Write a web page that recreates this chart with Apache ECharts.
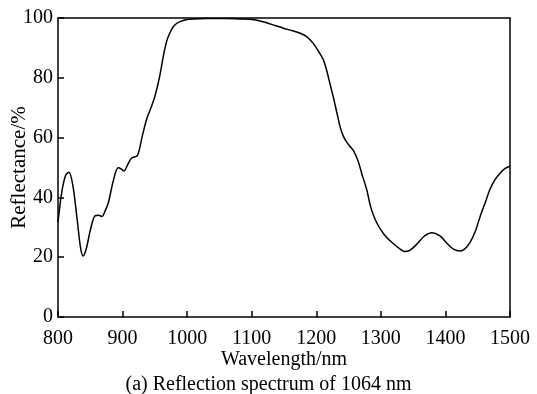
<!DOCTYPE html>
<html><head><meta charset="utf-8">
<script src="https://cdn.jsdelivr.net/npm/echarts@6/dist/echarts.min.js"></script>
<style>html,body{margin:0;padding:0;background:#fff}#c{width:537px;height:394px}</style>
</head><body><div id="c"></div>
<script>
const wavelength = [800,806,812,817,823,830,835,839,844,850,857,863,868,873,878,885,893,898,902,908,914,923,930,937,944,950,957,963,968,973,980,989,1000,1010,1030,1060,1080,1097,1110,1123,1136,1149,1162,1175,1185,1195,1203,1211,1216,1221,1227,1232,1237,1242,1247,1252,1258,1265,1271,1278,1284,1291,1299,1309,1319,1330,1337,1345,1355,1367,1379,1391,1403,1413,1423,1430,1438,1446,1454,1462,1469,1477,1485,1492,1500];
const reflectance = [31.7,42,47.5,48.4,44,32,23,20.4,23,29,33.8,34,33.6,35.5,38.2,45,49.9,49.5,48.8,51,53.2,54,60,66,70,73.8,80,87.1,92,94.9,97.5,98.8,99.5,99.7,99.8,99.8,99.7,99.6,99.2,98.4,97.5,96.6,95.8,94.9,93.8,91.6,89,86,82.5,78.2,73,68.2,63.5,60.4,58.5,57.1,55.5,52,47.5,42.7,37,32.7,29.5,26.6,24.6,22.7,21.9,22.3,24.2,27,28.2,27.2,24.5,22.6,22.1,22.8,24.9,28.5,33.8,38.5,42.7,46,48.2,49.6,50.4];
const xTicks = [800,900,1000,1100,1200,1300,1400,1500];
const yTicks = [0,20,40,60,80,100];
const xName = 'Wavelength/nm';
const yName = 'Reflectance/%';
const caption = '(a) Reflection spectrum of 1064 nm';

const font = 'Liberation Serif';
const fs = 20;
const chart = echarts.init(document.getElementById('c'), null, {renderer:'canvas'});
const axLine = {show:true, onZero:false, lineStyle:{color:'#000', width:1.5}};
chart.setOption({
  animation:false,
  backgroundColor:'#fff',
  title:{text:caption, left:'center', top:370, textStyle:{fontFamily:font, fontSize:fs, fontWeight:'normal', color:'#000'}},
  grid:{left:58, right:27, top:18, bottom:77, show:false, containLabel:false, outerBoundsMode:'none'},
  xAxis:[{
    type:'value', min:xTicks[0], max:xTicks[xTicks.length-1], interval:100,
    name:xName, nameLocation:'middle', nameGap:33, nameMoveOverlap:false,
    nameTextStyle:{fontFamily:font, fontSize:fs, color:'#000'},
    axisLine:axLine,
    axisTick:{show:true, inside:true, length:6, lineStyle:{color:'#000', width:1.5}},
    axisLabel:{fontFamily:font, fontSize:fs, color:'#000', margin:12, formatter:v=>String(v)},
    splitLine:{show:false}
  },{
    type:'value', position:'top', min:800, max:1500, axisLine:axLine,
    axisTick:{show:false}, axisLabel:{show:false}, splitLine:{show:false}
  }],
  yAxis:[{
    type:'value', min:yTicks[0], max:yTicks[yTicks.length-1], interval:20,
    name:yName, nameLocation:'middle', nameGap:28, nameRotate:90, nameMoveOverlap:false,
    nameTextStyle:{fontFamily:font, fontSize:21, color:'#000'},
    axisLine:axLine,
    axisTick:{show:true, inside:true, length:6, lineStyle:{color:'#000', width:1.5}},
    axisLabel:{fontFamily:font, fontSize:fs, color:'#000', margin:5, formatter:v=>String(v)},
    splitLine:{show:false}
  },{
    type:'value', position:'right', min:0, max:100, axisLine:axLine,
    axisTick:{show:false}, axisLabel:{show:false}, splitLine:{show:false}
  }],
  series:[{
    type:'line', smooth:0.3, showSymbol:false,
    data: wavelength.map((w,i)=>[w, reflectance[i]]),
    lineStyle:{color:'#000', width:1.5}
  }]
});
</script></body></html>
